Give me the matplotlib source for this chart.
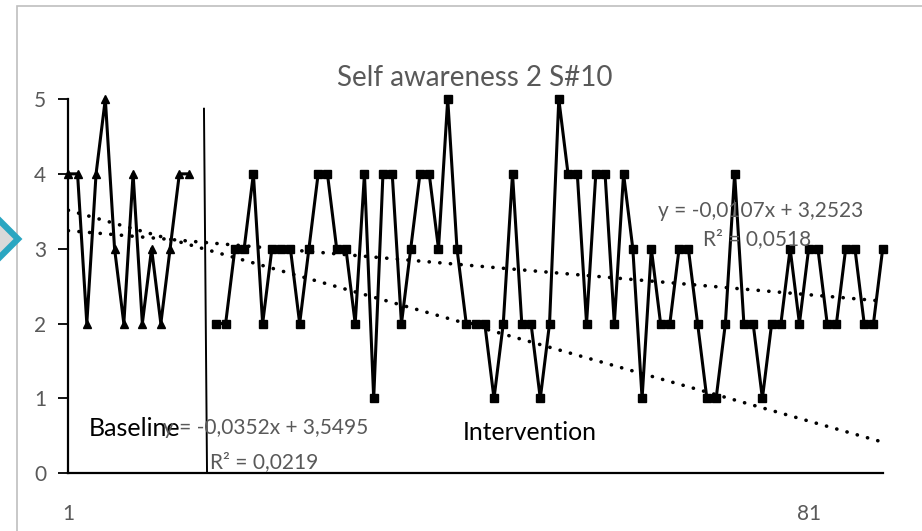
import numpy as np
import matplotlib
matplotlib.use("Agg")
import matplotlib.pyplot as plt
from matplotlib.patches import Polygon, Rectangle

plt.rcParams['font.family'] = ['Lato', 'DejaVu Sans']

title = "Self awareness 2 S#10"
baseline_x_start = 1
baseline = [4, 4, 2, 4, 5, 3, 2, 4, 2, 3, 2, 3, 4, 4]
intervention_x_start = 17
intervention = [2, 2, 3, 3, 4, 2, 3, 3, 3, 2, 3, 4, 4, 3, 3, 2, 4, 1,
                4, 4, 2, 3, 4, 4, 3, 5, 3, 2, 2, 2, 1, 2, 4, 2, 2, 1,
                2, 5, 4, 4, 2, 4, 4, 2, 4, 3, 1, 3, 2, 2, 3, 3, 2, 1, 1,
                2, 4, 2, 2, 1, 2, 2, 3, 2, 3, 3, 2, 2, 3, 3, 2, 2, 3]
trend_base = (-0.0352, 3.5495)
trend_int = (-0.0107, 3.2523)
eq_base = ["y = -0,0352x + 3,5495", "R² = 0,0219"]
eq_int = ["y = -0,0107x + 3,2523", "R² = 0,0518"]
x_ticks = [1, 81]
y_ticks = [0, 1, 2, 3, 4, 5]
phase_labels = ["Baseline", "Intervention"]

W, H = 922, 531
fig = plt.figure(figsize=(W / 100, H / 100), dpi=100)

def fx(px):
    return px / W

def fy(py):
    return 1 - py / H

# chart border
fig.patches.append(Rectangle((fx(17), fy(940)), fx(1000), fy(6) - fy(940), transform=fig.transFigure,
                             fill=False, edgecolor='#BFBFBF', lw=1.2, zorder=0))
# decorative chevron
fig.patches.append(Polygon([(fx(18), fy(239)), (fx(-22), fy(199)), (fx(-62), fy(239)), (fx(-22), fy(279))],
                           closed=True, transform=fig.transFigure, facecolor='#D9D9D9',
                           edgecolor='#2AA6C1', lw=4.5, zorder=1))

n_last = intervention_x_start + len(intervention) - 1
ax = fig.add_axes([fx(68.3), fy(473.3), fx(882.7) - fx(68.3), fy(99) - fy(473.3)])
ax.set_xlim(1, n_last)
ax.set_ylim(0, 5)

xb = np.arange(baseline_x_start, baseline_x_start + len(baseline))
xi = np.arange(intervention_x_start, intervention_x_start + len(intervention))
ax.plot(xb, baseline, color='black', lw=2.2, marker='^', ms=6, clip_on=False, zorder=3)
ax.plot(xi, intervention, color='black', lw=2.2, marker='s', ms=5.5, clip_on=False, zorder=3)

xt = np.array([1, n_last])
dot = (0, (0.05, 2.9))
ax.plot(xt, trend_base[0] * xt + trend_base[1], color='black', lw=2.6, ls=dot,
        dash_capstyle='round', zorder=2)
ax.plot(xt, trend_int[0] * xt + trend_int[1], color='black', lw=2.6, ls=dot,
        dash_capstyle='round', zorder=2)

# phase change line
ax.plot([15.66, 15.99], [4.87, 0], color='black', lw=1.4, zorder=2)

for s in ['top', 'right']:
    ax.spines[s].set_visible(False)
for s in ['left', 'bottom']:
    ax.spines[s].set_color('black')
    ax.spines[s].set_linewidth(1.6)
ax.set_yticks(y_ticks)
ax.set_xticks(x_ticks)
ax.tick_params(axis='y', direction='out', length=7, width=1.3, color='black',
               labelcolor='#595959', labelsize=15, pad=9)
ax.tick_params(axis='x', length=0, labelcolor='#595959', labelsize=15, pad=22)

fig.text(fx(475), fy(78), title, ha='center', va='center', color='#595959', fontsize=20)
fig.text(fx(89), fy(428), phase_labels[0], ha='left', va='center', color='black', fontsize=18)
fig.text(fx(463), fy(432), phase_labels[1], ha='left', va='center', color='black', fontsize=17.8)
fig.text(fx(163), fy(428), eq_base[0], ha='left', va='center', color='#595959', fontsize=15)
fig.text(fx(210), fy(462), eq_base[1], ha='left', va='center', color='#595959', fontsize=15)
fig.text(fx(658), fy(211), eq_int[0], ha='left', va='center', color='#595959', fontsize=15)
fig.text(fx(703), fy(239), eq_int[1], ha='left', va='center', color='#595959', fontsize=15)

fig.savefig("out.png", dpi=100)
